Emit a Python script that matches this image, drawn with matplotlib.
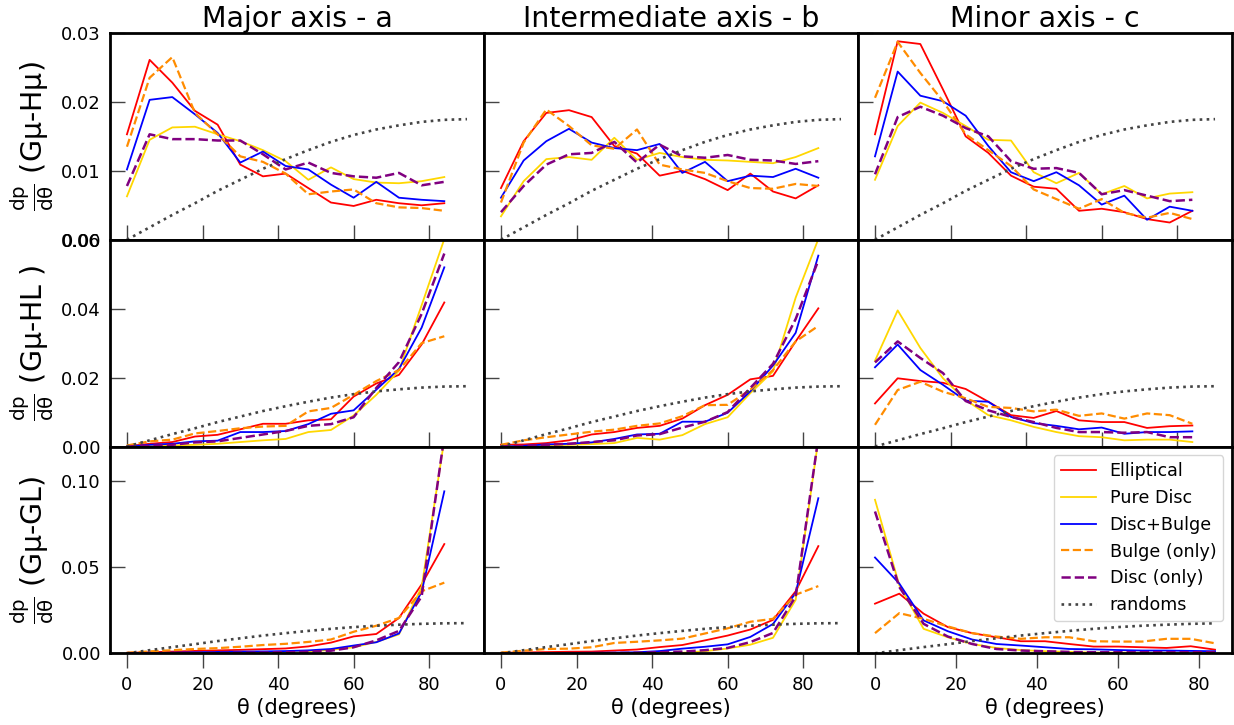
import matplotlib
matplotlib.use("Agg")
import matplotlib.pyplot as plt

plt.rcParams['font.family'] = ['DejaVu Sans']
plt.rcParams['mathtext.default'] = 'regular'

# ---------------- data ----------------
theta = [0, 6, 12, 18, 24, 30, 36, 42, 48, 54, 60, 66, 72, 78, 84]
theta_rand = [0, 6, 12, 18, 24, 30, 36, 42, 48, 54, 60, 66, 72, 78, 84, 90]
randoms = [0.0, 0.0018, 0.0036, 0.0053, 0.0071, 0.0087, 0.0103, 0.0117,
           0.0130, 0.0142, 0.0152, 0.0160, 0.0166, 0.0171, 0.0174, 0.0175]

series_labels = ['Elliptical', 'Pure Disc', 'Disc+Bulge', 'Bulge (only)', 'Disc (only)']
col_titles = ['Major axis - a', 'Intermediate axis - b', 'Minor axis - c']
row_labels = ['(Gμ-Hμ)', '(Gμ-HL )', '(Gμ-GL)']
row_ylim = [0.03, 0.06, 0.12]
row_yticks = [[0.00, 0.01, 0.02, 0.03], [0.00, 0.02, 0.04, 0.06], [0.00, 0.05, 0.10]]
xticks = [0, 20, 40, 60, 80]

# Row 1: Gmu-Hmu
a_hmu_ell = [0.0153, 0.0261, 0.0228, 0.0187, 0.0167, 0.0109, 0.0092, 0.0096, 0.0075, 0.0054, 0.0049, 0.0058, 0.0053, 0.0050, 0.0053]
a_hmu_pd = [0.0063, 0.0145, 0.0163, 0.0164, 0.0153, 0.0143, 0.0130, 0.0114, 0.0087, 0.0105, 0.0088, 0.0083, 0.0082, 0.0085, 0.0091]
a_hmu_db = [0.0102, 0.0203, 0.0207, 0.0182, 0.0155, 0.0112, 0.0128, 0.0107, 0.0102, 0.0080, 0.0061, 0.0084, 0.0061, 0.0058, 0.0056]
a_hmu_bul = [0.0135, 0.0235, 0.0265, 0.0184, 0.0153, 0.0121, 0.0113, 0.0096, 0.0066, 0.0070, 0.0073, 0.0053, 0.0047, 0.0046, 0.0042]
a_hmu_dsc = [0.0078, 0.0153, 0.0146, 0.0146, 0.0144, 0.0144, 0.0124, 0.0102, 0.0112, 0.0097, 0.0092, 0.0090, 0.0097, 0.0079, 0.0084]

b_hmu_ell = [0.0075, 0.0143, 0.0184, 0.0188, 0.0178, 0.0136, 0.0125, 0.0093, 0.0100, 0.0088, 0.0072, 0.0096, 0.0070, 0.0060, 0.0079]
b_hmu_pd = [0.0034, 0.0085, 0.0117, 0.0120, 0.0116, 0.0148, 0.0116, 0.0126, 0.0120, 0.0116, 0.0115, 0.0113, 0.0111, 0.0120, 0.0133]
b_hmu_db = [0.0061, 0.0115, 0.0143, 0.0161, 0.0141, 0.0133, 0.0130, 0.0139, 0.0097, 0.0113, 0.0085, 0.0093, 0.0091, 0.0103, 0.0090]
b_hmu_bul = [0.0054, 0.0141, 0.0189, 0.0165, 0.0137, 0.0132, 0.0160, 0.0109, 0.0102, 0.0097, 0.0085, 0.0075, 0.0074, 0.0081, 0.0078]
b_hmu_dsc = [0.0040, 0.0078, 0.0109, 0.0124, 0.0126, 0.0142, 0.0112, 0.0138, 0.0121, 0.0119, 0.0123, 0.0116, 0.0115, 0.0110, 0.0114]

c_hmu_ell = [0.0153, 0.0288, 0.0284, 0.0218, 0.0150, 0.0126, 0.0093, 0.0077, 0.0074, 0.0042, 0.0045, 0.0040, 0.0030, 0.0025, 0.0042]
c_hmu_pd = [0.0087, 0.0165, 0.0199, 0.0184, 0.0165, 0.0145, 0.0144, 0.0098, 0.0082, 0.0097, 0.0066, 0.0078, 0.0060, 0.0067, 0.0069]
c_hmu_db = [0.0121, 0.0244, 0.0209, 0.0201, 0.0180, 0.0136, 0.0098, 0.0085, 0.0098, 0.0079, 0.0051, 0.0064, 0.0029, 0.0048, 0.0042]
c_hmu_bul = [0.0206, 0.0287, 0.0242, 0.0201, 0.0153, 0.0130, 0.0107, 0.0073, 0.0059, 0.0045, 0.0059, 0.0039, 0.0032, 0.0039, 0.0030]
c_hmu_dsc = [0.0095, 0.0178, 0.0193, 0.0180, 0.0162, 0.0150, 0.0114, 0.0103, 0.0104, 0.0097, 0.0066, 0.0072, 0.0064, 0.0056, 0.0058]

# Row 2: Gmu-HL
a_hl_ell = [0.0001, 0.0008, 0.0013, 0.0029, 0.0034, 0.0050, 0.0066, 0.0066, 0.0076, 0.0079, 0.0145, 0.0183, 0.0208, 0.0296, 0.0418]
a_hl_pd = [0.0000, 0.0001, 0.0003, 0.0005, 0.0008, 0.0013, 0.0018, 0.0022, 0.0042, 0.0048, 0.0090, 0.0150, 0.0220, 0.0410, 0.0602]
a_hl_db = [0.0000, 0.0005, 0.0008, 0.0015, 0.0017, 0.0042, 0.0042, 0.0045, 0.0065, 0.0095, 0.0105, 0.0165, 0.0225, 0.0345, 0.0520]
a_hl_bul = [0.0003, 0.0015, 0.0020, 0.0038, 0.0045, 0.0053, 0.0058, 0.0060, 0.0102, 0.0112, 0.0150, 0.0190, 0.0222, 0.0300, 0.0320]
a_hl_dsc = [0.0000, 0.0002, 0.0005, 0.0012, 0.0015, 0.0025, 0.0035, 0.0045, 0.0060, 0.0065, 0.0085, 0.0170, 0.0245, 0.0385, 0.0560]

b_hl_ell = [0.0005, 0.0006, 0.0010, 0.0018, 0.0035, 0.0042, 0.0054, 0.0060, 0.0081, 0.0120, 0.0150, 0.0195, 0.0205, 0.0305, 0.0401]
b_hl_pd = [0.0000, 0.0001, 0.0003, 0.0005, 0.0007, 0.0010, 0.0025, 0.0020, 0.0033, 0.0065, 0.0085, 0.0155, 0.0218, 0.0432, 0.0602]
b_hl_db = [0.0000, 0.0002, 0.0006, 0.0008, 0.0012, 0.0022, 0.0035, 0.0037, 0.0072, 0.0072, 0.0098, 0.0160, 0.0235, 0.0330, 0.0554]
b_hl_bul = [0.0005, 0.0018, 0.0027, 0.0035, 0.0043, 0.0049, 0.0060, 0.0067, 0.0088, 0.0120, 0.0121, 0.0165, 0.0222, 0.0305, 0.0350]
b_hl_dsc = [0.0000, 0.0002, 0.0005, 0.0008, 0.0013, 0.0018, 0.0032, 0.0036, 0.0055, 0.0072, 0.0100, 0.0170, 0.0240, 0.0370, 0.0540]

c_hl_ell = [0.0125, 0.0198, 0.0190, 0.0185, 0.0167, 0.0130, 0.0091, 0.0083, 0.0103, 0.0076, 0.0071, 0.0071, 0.0054, 0.0059, 0.0061]
c_hl_pd = [0.0249, 0.0395, 0.0286, 0.0198, 0.0135, 0.0091, 0.0076, 0.0057, 0.0042, 0.0030, 0.0027, 0.0018, 0.0020, 0.0020, 0.0013]
c_hl_db = [0.0230, 0.0296, 0.0222, 0.0179, 0.0133, 0.0130, 0.0086, 0.0068, 0.0060, 0.0050, 0.0055, 0.0037, 0.0042, 0.0042, 0.0044]
c_hl_bul = [0.0063, 0.0164, 0.0188, 0.0159, 0.0140, 0.0115, 0.0112, 0.0102, 0.0107, 0.0089, 0.0096, 0.0081, 0.0096, 0.0091, 0.0066]
c_hl_dsc = [0.0244, 0.0305, 0.0257, 0.0213, 0.0132, 0.0105, 0.0086, 0.0071, 0.0054, 0.0042, 0.0042, 0.0040, 0.0042, 0.0027, 0.0027]

# Row 3: Gmu-GL
a_gl_ell = [0.0003, 0.0006, 0.0010, 0.0014, 0.0017, 0.0020, 0.0024, 0.0028, 0.0040, 0.0062, 0.0098, 0.0112, 0.0205, 0.0400, 0.0634]
a_gl_pd = [0.0000, 0.0000, 0.0000, 0.0001, 0.0001, 0.0002, 0.0003, 0.0004, 0.0010, 0.0020, 0.0035, 0.0066, 0.0110, 0.0385, 0.1240]
a_gl_db = [0.0000, 0.0002, 0.0004, 0.0006, 0.0008, 0.0010, 0.0011, 0.0013, 0.0017, 0.0025, 0.0045, 0.0064, 0.0115, 0.0356, 0.0940]
a_gl_bul = [0.0003, 0.0011, 0.0018, 0.0025, 0.0030, 0.0038, 0.0048, 0.0055, 0.0066, 0.0080, 0.0125, 0.0160, 0.0205, 0.0360, 0.0410]
a_gl_dsc = [0.0000, 0.0000, 0.0001, 0.0002, 0.0003, 0.0003, 0.0004, 0.0006, 0.0009, 0.0015, 0.0035, 0.0075, 0.0130, 0.0330, 0.1260]

b_gl_ell = [0.0003, 0.0005, 0.0007, 0.0009, 0.0010, 0.0016, 0.0022, 0.0036, 0.0048, 0.0075, 0.0103, 0.0138, 0.0194, 0.0360, 0.0622]
b_gl_pd = [0.0000, 0.0000, 0.0000, 0.0000, 0.0001, 0.0001, 0.0002, 0.0002, 0.0003, 0.0012, 0.0028, 0.0050, 0.0090, 0.0310, 0.1240]
b_gl_db = [0.0000, 0.0000, 0.0001, 0.0002, 0.0003, 0.0004, 0.0006, 0.0013, 0.0027, 0.0038, 0.0052, 0.0095, 0.0170, 0.0350, 0.0900]
b_gl_bul = [0.0004, 0.0015, 0.0025, 0.0027, 0.0035, 0.0060, 0.0067, 0.0075, 0.0085, 0.0115, 0.0145, 0.0183, 0.0200, 0.0340, 0.0390]
b_gl_dsc = [0.0000, 0.0000, 0.0000, 0.0001, 0.0001, 0.0002, 0.0003, 0.0006, 0.0010, 0.0018, 0.0031, 0.0065, 0.0118, 0.0330, 0.1250]

c_gl_ell = [0.0288, 0.0346, 0.0230, 0.0152, 0.0117, 0.0093, 0.0070, 0.0070, 0.0054, 0.0039, 0.0039, 0.0035, 0.0031, 0.0041, 0.0021]
c_gl_pd = [0.0891, 0.0395, 0.0142, 0.0093, 0.0054, 0.0031, 0.0019, 0.0012, 0.0008, 0.0004, 0.0004, 0.0004, 0.0004, 0.0004, 0.0002]
c_gl_db = [0.0556, 0.0405, 0.0191, 0.0128, 0.0080, 0.0054, 0.0045, 0.0035, 0.0025, 0.0023, 0.0019, 0.0016, 0.0016, 0.0014, 0.0012]
c_gl_bul = [0.0117, 0.0233, 0.0200, 0.0156, 0.0117, 0.0097, 0.0084, 0.0093, 0.0093, 0.0070, 0.0068, 0.0068, 0.0084, 0.0084, 0.0058]
c_gl_dsc = [0.0823, 0.0385, 0.0171, 0.0097, 0.0054, 0.0025, 0.0016, 0.0012, 0.0008, 0.0006, 0.0006, 0.0006, 0.0006, 0.0006, 0.0006]

panels = [
    [[a_hmu_ell, a_hmu_pd, a_hmu_db, a_hmu_bul, a_hmu_dsc],
     [b_hmu_ell, b_hmu_pd, b_hmu_db, b_hmu_bul, b_hmu_dsc],
     [c_hmu_ell, c_hmu_pd, c_hmu_db, c_hmu_bul, c_hmu_dsc]],
    [[a_hl_ell, a_hl_pd, a_hl_db, a_hl_bul, a_hl_dsc],
     [b_hl_ell, b_hl_pd, b_hl_db, b_hl_bul, b_hl_dsc],
     [c_hl_ell, c_hl_pd, c_hl_db, c_hl_bul, c_hl_dsc]],
    [[a_gl_ell, a_gl_pd, a_gl_db, a_gl_bul, a_gl_dsc],
     [b_gl_ell, b_gl_pd, b_gl_db, b_gl_bul, b_gl_dsc],
     [c_gl_ell, c_gl_pd, c_gl_db, c_gl_bul, c_gl_dsc]],
]

# ---------------- styles ----------------
styles = [
    dict(color='red', ls='-', lw=1.3),
    dict(color='gold', ls='-', lw=1.3),
    dict(color='blue', ls='-', lw=1.3),
    dict(color='darkorange', ls='--', lw=1.6),
    dict(color='purple', ls='--', lw=1.8),
]
rand_style = dict(color='#444444', ls=':', lw=1.9)

fig, axes = plt.subplots(3, 3, figsize=(12.34, 7.25), dpi=100)
fig.subplots_adjust(left=0.0891, right=0.9984, top=0.9545, bottom=0.0989,
                    wspace=0, hspace=0)

for r in range(3):
    for c in range(3):
        ax = axes[r][c]
        for s, (vals, st) in enumerate(zip(panels[r][c], styles)):
            ax.plot(theta, vals, label=series_labels[s], **st)
        if r == 2 and c == 2:
            ax.plot(theta_rand[:15], randoms[:15], label='randoms', **rand_style)
            ax.set_xlim(-4.2, 88.2)
        else:
            ax.plot(theta_rand, randoms, label='randoms', **rand_style)
            ax.set_xlim(-4.5, 94.5)
        ax.set_ylim(0, row_ylim[r])
        ax.set_yticks(row_yticks[r])
        ax.set_xticks(xticks)
        for sp in ax.spines.values():
            sp.set_linewidth(2.0)
        ax.tick_params(axis='y', direction='in', length=11, width=1.0,
                       color='#444444', labelsize=13, pad=6.5)
        if r == 2:
            ax.tick_params(axis='x', direction='out', length=11, width=1.0,
                           color='#444444', labelsize=13, pad=5)
            ax.set_xlabel('θ (degrees)', fontsize=15, labelpad=3)
        else:
            ax.tick_params(axis='x', direction='in', length=11, width=1.0,
                           color='#444444', labelbottom=False)
        if c == 0:
            ax.yaxis.set_major_formatter(matplotlib.ticker.FormatStrFormatter('%.2f'))
            ax.set_ylabel(r'$\frac{dp}{d\theta}$ ' + row_labels[r], fontsize=20.5, labelpad=4)
        else:
            ax.tick_params(axis='y', labelleft=False)
        if r == 0:
            ax.set_title(col_titles[c], fontsize=20.5, pad=2)

leg = axes[2][2].legend(loc='upper right', fontsize=12.6)

fig.savefig('out.png', dpi=100)
